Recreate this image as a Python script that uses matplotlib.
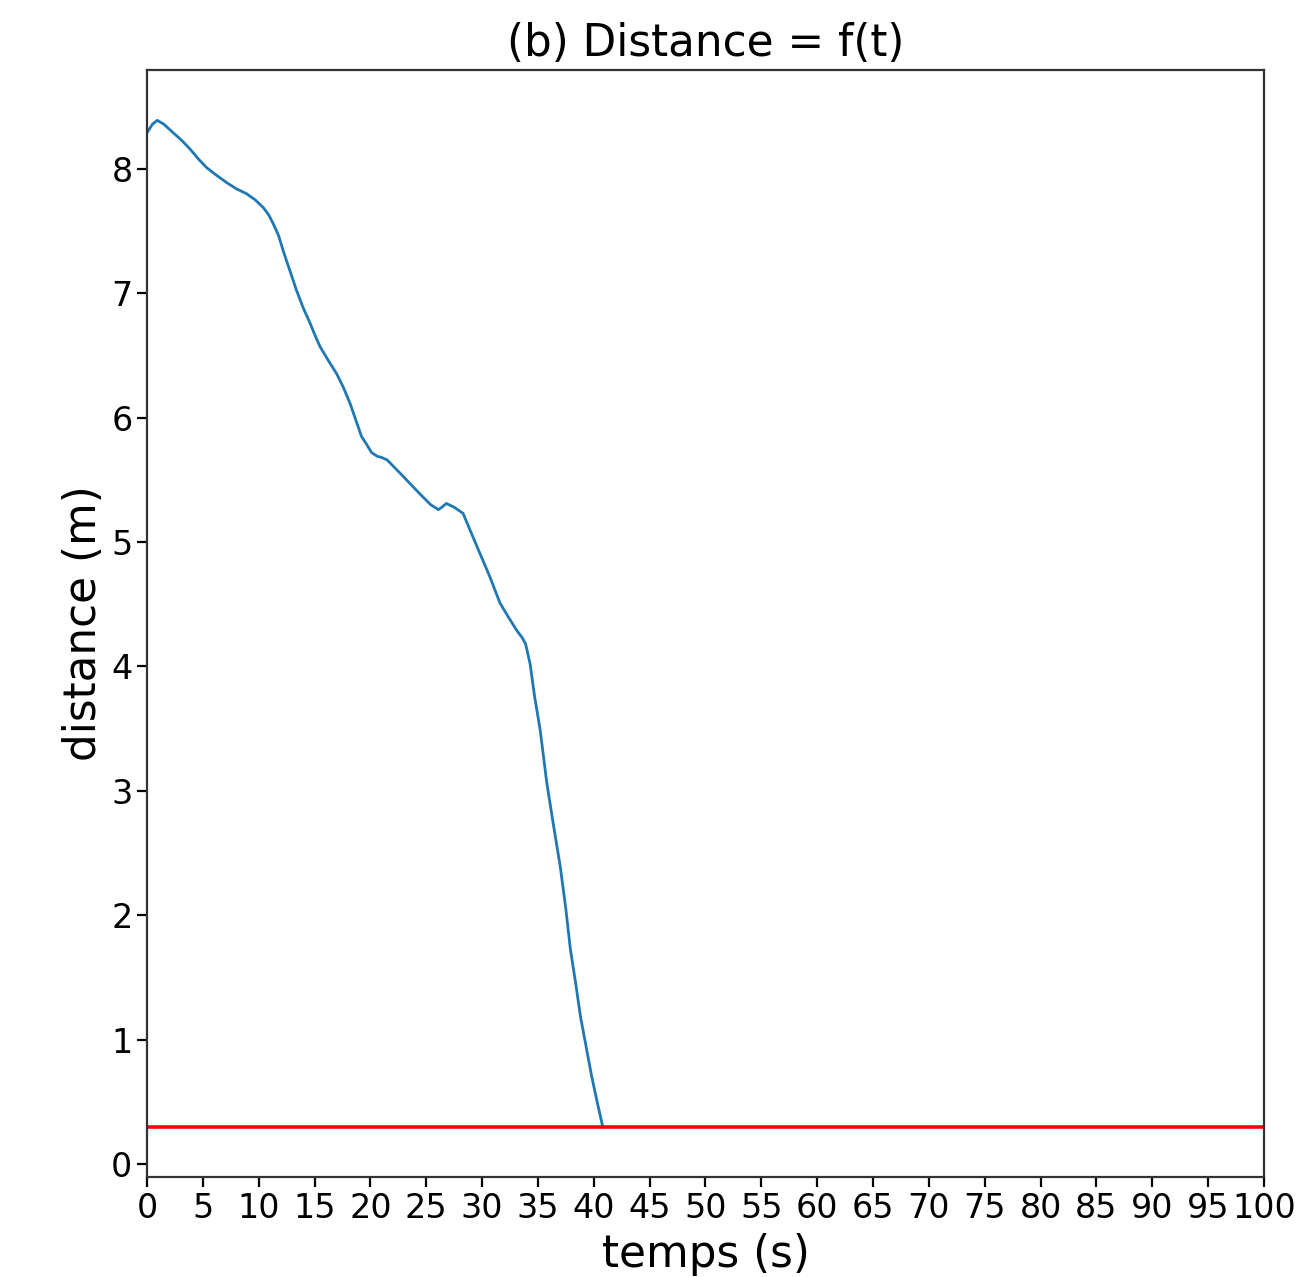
import numpy as np
import matplotlib
matplotlib.use('Agg')
import matplotlib.pyplot as plt

# temps (s) et distance (m)
temps = [0.0, 0.5, 0.92, 1.5, 2.35, 3.1, 3.85, 4.6, 5.34, 6.2, 7.13, 8.0, 8.92,
         9.7, 10.4, 10.9, 11.3, 11.8, 12.2, 12.8, 13.4, 14.0, 14.6, 15.1, 15.5,
         16.3, 17.0, 17.6, 18.2, 18.7, 19.2, 19.7, 20.1, 20.6, 21.0, 21.5, 22.7,
         24.4, 25.4, 26.1, 26.4, 26.8, 27.5, 28.3, 29.0, 29.8, 30.7, 31.6, 32.4,
         33.1, 33.6, 33.9, 34.3, 34.7, 35.2, 35.8, 36.4, 37.0, 37.5, 37.9, 38.4,
         38.8, 39.3, 39.8, 40.3, 40.8]
distance = [8.29, 8.36, 8.39, 8.36, 8.29, 8.23, 8.16, 8.08, 8.01, 7.95, 7.89, 7.84, 7.80,
            7.75, 7.69, 7.63, 7.56, 7.46, 7.34, 7.18, 7.02, 6.88, 6.76, 6.65, 6.57,
            6.45, 6.35, 6.24, 6.11, 5.98, 5.85, 5.78, 5.72, 5.69, 5.68, 5.66, 5.55,
            5.39, 5.30, 5.26, 5.28, 5.31, 5.28, 5.23, 5.08, 4.91, 4.72, 4.51, 4.39,
            4.29, 4.23, 4.18, 4.02, 3.76, 3.49, 3.06, 2.72, 2.39, 2.05, 1.73, 1.44,
            1.19, 0.95, 0.71, 0.50, 0.30]
seuil = 0.3
t_max = 100

fig = plt.figure(figsize=(12.96, 12.77), dpi=100)
ax = fig.add_axes([0.1134, 0.0783, 0.8619, 0.8669])

ax.plot(temps, distance, color='#1f77b4', linewidth=2.0)
ax.plot([0, t_max], [seuil, seuil], color='red', linewidth=2.6)

ax.set_xlim(0, t_max)
ax.set_ylim(-0.105, 8.795)
ax.set_xticks(np.arange(0, t_max + 1, 5))
ax.set_yticks(np.arange(0, 9, 1))
ax.tick_params(labelsize=24, length=7, width=1.6)
for s in ax.spines.values():
    s.set_linewidth(1.6)
    s.set_color('#333333')

ax.set_xlabel('temps (s)', fontsize=31.5, labelpad=6)
ax.set_ylabel('distance (m)', fontsize=31.5)
ax.set_title('(b) Distance = f(t)', fontsize=31.5, pad=10)

fig.savefig('out.png', dpi=100)
